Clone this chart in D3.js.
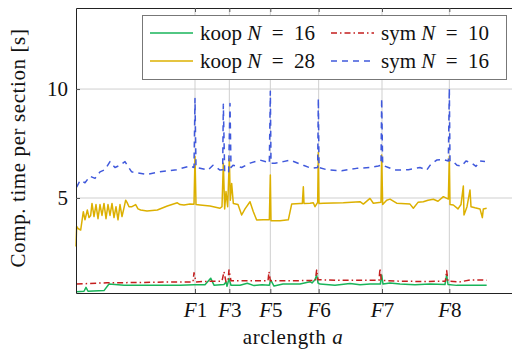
<!DOCTYPE html>
<html>
<head>
<meta charset="utf-8">
<script src="https://cdn.jsdelivr.net/npm/d3@7/dist/d3.min.js"></script>
<style>
  body { margin: 0; background: #fff; }
  svg { display: block; font-family: "Liberation Serif", serif; }
</style>
</head>
<body>
<div id="chart"></div>
<script>
// arclength [m] / computation time [s] per section
const koop16 = [
  [2,0.7],[24,0.72],[30,0.9],[36,0.72],[84,0.75],[99,1.05],[144,1.0],[222,1.0],[312,1.0],
  [354,1.02],[387,1.02],[404,1.32],[414,1.0],[444,1.03],[450,1.15],[453,0.95],[459,1.3],
  [465,1.0],[492,1.0],[514,1.09],[534,0.98],[558,1.02],[580,1.0],[584,1.24],[594,0.96],
  [621,1.05],[642,1.05],[672,1.05],[702,1.16],[708,1.1],[717,1.25],[722,1.47],[726,1.1],
  [732,1.05],[777,1.0],[822,1.08],[852,1.02],[882,1.05],[913,1.05],[917,1.47],[921,1.05],
  [942,1.1],[972,1.05],[1017,1.02],[1062,1.05],[1107,1.03],[1112,1.47],[1116,1.03],
  [1142,0.99],[1182,0.99],[1232,0.99]
];
const koop28 = [
  [0,2.77],[2,3.7],[6,3.6],[14,3.53],[22,4.37],[27,4.0],[34,4.45],[39,4.1],[44,4.2],[48,4.75],
  [54,4.15],[60,4.7],[66,4.05],[72,4.7],[78,4.2],[84,4.75],[90,4.05],[96,4.7],[102,4.2],
  [108,4.75],[114,4.1],[120,4.6],[126,4.0],[132,4.7],[138,4.15],[144,4.55],[149,4.9],
  [153,4.8],[159,4.6],[168,4.6],[179,4.7],[186,4.5],[194,4.45],[213,4.4],[244,4.45],
  [274,4.63],[304,4.78],[312,4.7],[324,4.68],[342,4.72],[354,4.71],[357,6.9],[360,4.7],
  [372,4.68],[402,4.63],[432,4.53],[438,4.6],[442,6.6],[446,4.5],[450,5.3],[455,4.6],
  [460,6.8],[463,4.9],[467,5.67],[472,4.75],[486,4.7],[497,4.22],[507,4.5],[522,4.83],
  [532,4.37],[542,3.99],[562,4.0],[580,4.0],[583,6.06],[585,3.96],[612,3.96],[637,4.0],
  [647,4.72],[672,4.75],[679,4.75],[682,5.52],[684,4.75],[702,4.76],[712,4.78],[717,4.6],
  [725,4.8],[727,7.1],[729,4.75],[742,4.76],[802,4.78],[852,4.83],[862,4.72],[882,4.98],
  [892,4.76],[915,4.8],[917,6.97],[920,4.7],[932,4.9],[942,4.95],[962,4.76],[1002,4.72],
  [1012,4.53],[1026,4.8],[1042,4.83],[1056,4.9],[1072,4.94],[1086,4.85],[1102,5.06],
  [1117,4.95],[1120,6.9],[1122,4.7],[1132,4.68],[1146,4.5],[1155,4.7],[1162,5.55],
  [1164,4.22],[1173,4.6],[1182,5.37],[1185,4.6],[1197,4.55],[1212,4.5],[1219,4.1],
  [1222,4.5],[1232,4.53]
];
const sym10 = [
  [2,1.05],[42,1.08],[93,1.11],[192,1.12],[294,1.15],[351,1.15],[354,1.57],[360,1.15],
  [402,1.18],[438,1.18],[444,1.62],[450,1.15],[456,1.2],[459,1.7],[465,1.2],[544,1.2],
  [576,1.2],[579,1.62],[583,1.2],[644,1.2],[718,1.22],[722,1.7],[726,1.25],[792,1.22],
  [852,1.22],[909,1.22],[912,1.77],[916,1.22],[972,1.18],[1041,1.17],[1108,1.18],
  [1112,1.67],[1116,1.18],[1152,1.15],[1182,1.24],[1217,1.24],[1232,1.22]
];
const sym16 = [
  [2,5.5],[12,5.8],[27,5.7],[42,6.0],[57,5.9],[72,6.2],[87,6.3],[102,6.67],[111,6.5],
  [117,6.4],[132,6.5],[147,6.67],[156,6.45],[167,6.2],[212,6.08],[252,6.2],[302,6.3],
  [342,6.47],[354,6.4],[357,9.57],[360,6.4],[372,6.37],[396,6.28],[411,6.5],[432,6.28],
  [440,6.3],[442,9.3],[446,6.2],[452,6.13],[458,6.2],[462,9.34],[465,6.4],[471,6.5],
  [497,6.4],[522,6.6],[552,6.74],[572,6.65],[580,6.6],[583,9.9],[585,6.6],[597,6.6],
  [622,6.67],[642,6.74],[682,6.5],[707,6.36],[725,6.4],[727,9.57],[729,6.4],[752,6.3],
  [797,6.25],[842,6.36],[882,6.4],[907,6.47],[915,6.5],[917,9.57],[920,6.5],[937,6.4],
  [957,6.28],[997,6.3],[1032,6.4],[1052,6.28],[1062,6.5],[1082,6.74],[1102,6.77],
  [1117,6.7],[1120,10.03],[1122,6.7],[1132,6.67],[1143,6.5],[1157,6.47],[1170,6.7],
  [1187,6.6],[1200,6.45],[1212,6.7],[1227,6.67]
];

const fixLabels = ['1','3','5','6','7','8'];
const fixPos = [357, 460, 583, 728, 918, 1120];
const yTicks = [5, 10];

const series = [
  {name:'koop', n:16, data:koop16, color:'#19b45a', dash:null},
  {name:'koop', n:28, data:koop28, color:'#dcb000', dash:null},
  {name:'sym',  n:10, data:sym10,  color:'#c41e1e', dash:'6,3,1.5,3'},
  {name:'sym',  n:16, data:sym16,  color:'#4059dc', dash:'6,5'}
];

const W = 512, H = 352;
const margin = {t:8, r:-8, b:59, l:76};
const innerWidth = W - margin.l - margin.r;
const innerHeight = H - margin.t - margin.b;

const x = d3.scaleLinear().domain([0, 1332]).range([0, innerWidth]);
const y = d3.scaleLinear().domain([0.64, 13.72]).range([innerHeight, 0]);

const svg = d3.select('#chart').append('svg')
  .attr('width', W).attr('height', H);
const plot = svg.append('g')
  .attr('transform', `translate(${margin.l}, ${margin.t})`);

// grid
plot.append('g').selectAll('line').data(fixPos).join('line')
  .attr('x1', d => x(d)).attr('x2', d => x(d))
  .attr('y1', 0).attr('y2', innerHeight)
  .style('stroke', '#cfcfcf').style('stroke-width', 1);
plot.append('g').selectAll('line').data(yTicks).join('line')
  .attr('x1', 0).attr('x2', innerWidth)
  .attr('y1', d => y(d)).attr('y2', d => y(d))
  .style('stroke', '#cfcfcf').style('stroke-width', 1);

// curves
const line = d3.line().x(d => x(d[0])).y(d => y(d[1]));
series.forEach(s => {
  plot.append('path')
    .datum(s.data)
    .attr('d', line)
    .style('fill', 'none')
    .style('stroke', s.color)
    .style('stroke-width', 1.5)
    .style('stroke-linejoin', 'round')
    .style('stroke-dasharray', s.dash);
});

// axes, ticks point inward
const axisX = d3.axisBottom(x).tickValues(fixPos).tickSizeInner(-4).tickSizeOuter(0).tickPadding(9)
  .tickFormat((d, i) => fixLabels[i]);
const axisY = d3.axisLeft(y).tickValues(yTicks).tickSizeInner(-4).tickSizeOuter(0).tickPadding(8);
const axisTop = d3.axisTop(x).tickValues(fixPos).tickSizeInner(-4).tickSizeOuter(0);

const gx = plot.append('g').attr('transform', `translate(0, ${innerHeight})`).call(axisX);
const gy = plot.append('g').call(axisY);
const gt = plot.append('g').call(axisTop);
gt.selectAll('.tick text').remove();

[gx, gy, gt].forEach(g => {
  g.attr('font-family', null).attr('font-size', null);
  g.select('.domain').style('stroke', '#222');
  g.selectAll('.tick line').style('stroke', '#555');
  g.selectAll('text').style('font-size', '21px').style('fill', '#111');
});

gx.selectAll('.tick text').each(function(d, i) {
  const t = d3.select(this).text('');
  t.append('tspan').style('font-style', 'italic').text('F');
  t.append('tspan').text(fixLabels[i]);
});

// axis titles
const xt = svg.append('text')
  .attr('x', 293).attr('y', 344)
  .attr('text-anchor', 'middle')
  .style('font-size', '21px').style('letter-spacing', '0.6px').style('fill', '#111');
xt.append('tspan').text('arclength ');
xt.append('tspan').style('font-style', 'italic').text('a');

svg.append('text')
  .attr('transform', 'translate(25, 148) rotate(-90)')
  .attr('text-anchor', 'middle')
  .style('font-size', '21px').style('letter-spacing', '0.6px').style('fill', '#111')
  .text('Comp. time per section [s]');

// legend
const legend = svg.append('g');
legend.append('rect')
  .attr('x', 142.5).attr('y', 15.5).attr('width', 364).attr('height', 64)
  .style('fill', '#fff').style('stroke', '#777').style('stroke-width', 1);

const cols = [150, 331];
const rows = [33, 61];
const order = [[0, 0, 0], [1, 0, 1], [2, 1, 0], [3, 1, 1]];
order.forEach(([si, c, r]) => {
  const s = series[si];
  const lx = cols[c], ly = rows[r];
  legend.append('line')
    .attr('x1', lx).attr('x2', lx + 43).attr('y1', ly).attr('y2', ly)
    .style('stroke', s.color).style('stroke-width', 1.5)
    .style('stroke-dasharray', s.dash);
  const t = legend.append('text')
    .attr('x', lx + 50).attr('y', ly + 7)
    .style('font-size', '21px').style('fill', '#111');
  t.append('tspan').text(s.name + ' ');
  t.append('tspan').style('font-style', 'italic').text('N');
  t.append('tspan').text('\u2002=\u2002' + s.n);
});
</script>
</body>
</html>
